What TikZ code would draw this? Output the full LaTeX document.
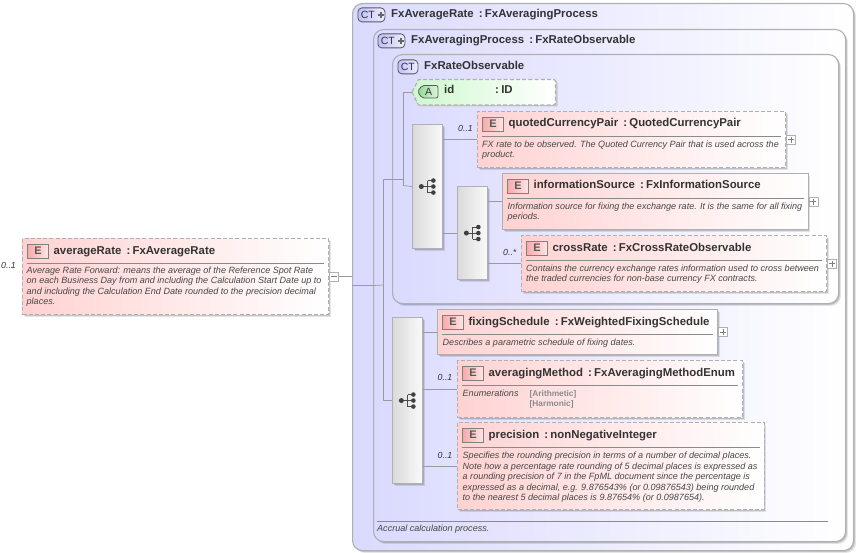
\documentclass[tikz,border=0pt]{standalone}
\usepackage{fontspec}
\setmainfont{Liberation Sans}
\usetikzlibrary{shadows,calc}
\definecolor{linegray}{HTML}{9A9A9A}
\definecolor{boxgray}{HTML}{B0B0B0}
\definecolor{textdark}{HTML}{333333}
\definecolor{ruledark}{HTML}{8A8A8A}
\definecolor{elempink}{HTML}{FFD2D2}
\definecolor{ctblue}{HTML}{DADAFF}
\definecolor{compleft}{HTML}{DADADA}
\definecolor{compright}{HTML}{FAFAFA}
\definecolor{eiconl}{HTML}{F8AAAA}
\definecolor{eiconr}{HTML}{FFE6E6}
\definecolor{cticonl}{HTML}{C0C0FA}
\definecolor{cticonr}{HTML}{EEEEFF}
\definecolor{attrgreen}{HTML}{CFF8CF}
\definecolor{aiconl}{HTML}{8FD98F}
\definecolor{aiconr}{HTML}{DDF5DD}
\tikzset{
  softshadow/.style={general shadow={fill=black,opacity=.10,shadow xshift=2.4pt,shadow yshift=-2.4pt},
                     general shadow={fill=black,opacity=.14,shadow xshift=1.4pt,shadow yshift=-1.4pt}},
  ctbox/.style={draw=boxgray,line width=1.1pt,rounded corners=10pt,left color=ctblue,right color=white,softshadow,anchor=north west,inner sep=0pt},
  elembase/.style={line width=1.1pt,left color=elempink,right color=white,softshadow,anchor=north west,inner sep=0pt},
  solidelem/.style={elembase,draw=boxgray},
  dashelem/.style={elembase,draw=boxgray,dash pattern=on 4pt off 2.2pt},
  compbox/.style={draw=boxgray,line width=1.1pt,left color=compleft,right color=compright,softshadow,anchor=north west,inner sep=0pt},
  toggle/.style={draw=boxgray,line width=.6pt,fill=white,minimum size=9pt,inner sep=0pt,anchor=west},
  conn/.style={draw=linegray,line width=.7pt},
  title/.style={font=\fontsize{11.4}{13}\selectfont\bfseries,text=textdark,anchor=base west,inner sep=0pt},
  desc/.style={font=\fontsize{9.05}{10.35}\selectfont\itshape,text=textdark!90,align=left,anchor=north west,inner sep=0pt},
  occurs/.style={font=\fontsize{8.8}{10}\selectfont\itshape,text=textdark,anchor=base west,inner sep=0pt},
  eicon/.style={draw=black!50,line width=.9pt,left color=eiconl,right color=eiconr,minimum width=21pt,minimum height=14pt,inner sep=0pt,anchor=north west,font=\fontsize{11}{12}\selectfont\bfseries,text=black!65},
  cticon/.style={draw=black!65,line width=.8pt,rounded corners=4pt,left color=cticonl,right color=cticonr,minimum height=14pt,inner sep=0pt,anchor=north west,font=\fontsize{10.5}{12}\selectfont,text=textdark},
}
% name, style, x, y, w, h, title
\newcommand\elembox[7]{%
  \node[#2,minimum width=#5pt,minimum height=#6pt] (#1) at (#3,#4) {};
  \node[eicon] (#1-e) at ($(#1.north west)+(5.2,5.6)$) {E};
  \node[title] (#1-t) at ($(#1.north west)+(31.4,16)$) {#7};
  \draw[ruledark,line width=.7pt] ($(#1.north west)+(5,25.2)$) -- ($(#1.north east)+(-5,25.2)$);
}
\newcommand\togglesign[2]{%
  \node[toggle] (#1-toggle) at (#1.east) {};
  \draw[black!50,line width=.6pt] ($(#1-toggle.center)+(-3,0)$) -- ($(#1-toggle.center)+(3,0)$);
  \ifx#2p\draw[black!50,line width=.6pt] ($(#1-toggle.center)+(0,-3)$) -- ($(#1-toggle.center)+(0,3)$);\fi
}
% compositor icon on the centre of a node
\newcommand\seqicon[1]{%
  \draw[black!70,line width=.9pt] ($(#1.center)+(-6,0)$) -- ($(#1.center)+(0,0)$)
     ($(#1.center)+(0,-6)$) -- ($(#1.center)+(0,6)$)
     ($(#1.center)+(0,-6)$) -- ($(#1.center)+(6,-6)$)
     ($(#1.center)+(0,0)$) -- ($(#1.center)+(6,0)$)
     ($(#1.center)+(0,6)$) -- ($(#1.center)+(6,6)$);
  \fill[black!75] ($(#1.center)+(-6.2,0)$) circle (2.5pt)
     ($(#1.center)+(5.8,-6)$) circle (2.3pt)
     ($(#1.center)+(5.8,0)$) circle (2.3pt)
     ($(#1.center)+(5.8,6)$) circle (2.3pt);
}
\newcommand\ctplus[1]{%
  \draw[black!60,line width=1.9pt] ($(#1.east)+(-7.4,0)$) -- ($(#1.east)+(-1.6,0)$)
     ($(#1.east)+(-4.5,-2.9)$) -- ($(#1.east)+(-4.5,2.9)$);
}
\begin{document}
\begin{tikzpicture}[x=1pt,y=-1pt]
\useasboundingbox[fill=white] (0,0) rectangle (858,553);
% containers
\node[ctbox,minimum width=501pt,minimum height=547pt] (ct1) at (352,3) {};
\node[ctbox,minimum width=472pt,minimum height=512pt] (ct2) at (373,29) {};
\node[ctbox,minimum width=446pt,minimum height=249pt] (ct3) at (392,54) {};
\node[cticon,minimum width=27pt,text width=25pt,align=left] (ct1-i) at (357.5,7.5) {\hspace{2pt}CT};
\ctplus{ct1-i}
\node[title] (ct1-t) at (391,18) {FxAverageRate\hspace{.45em}:\hspace{.2em}FxAveragingProcess};
\node[cticon,minimum width=27pt,text width=25pt,align=left] (ct2-i) at (377.5,33.5) {\hspace{2pt}CT};
\ctplus{ct2-i}
\node[title] (ct2-t) at (411,44) {FxAveragingProcess\hspace{.45em}:\hspace{.2em}FxRateObservable};
\node[cticon,minimum width=20pt] (ct3-i) at (397.5,59.5) {CT};
\node[title] (ct3-t) at (424,70) {FxRateObservable};
% compositors
\node[compbox,minimum width=30pt,minimum height=124pt] (comp1) at (412,124) {};
\node[compbox,minimum width=30pt,minimum height=93pt] (comp2) at (457,186) {};
\node[compbox,minimum width=30pt,minimum height=166pt] (comp3) at (392,317) {};
\seqicon{comp1}\seqicon{comp2}\seqicon{comp3}
% attribute
\coordinate (attr-tip) at (412,92);
\fill[black!22] (420,81.5) -- (556.5,81.5) -- (557.5,82.5) -- (557.5,106.5) -- (420,106.5) -- (414,99) -- cycle;
\draw[draw=boxgray,line width=1.1pt,dash pattern=on 4pt off 2.2pt,left color=attrgreen,right color=white]
  (attr-tip) -- (418.5,79.5) -- (554,79.5) -- (555.5,81) -- (555.5,103.5) -- (554,105) -- (418.5,105) -- cycle;
\draw[black!65,line width=.8pt,left color=aiconl,right color=aiconr,rounded corners=2pt] (422,85.5) -- (438,85.5) -- (438,98) -- (422,98) -- (417.5,91.7) -- cycle;
\node[font=\fontsize{10.5}{12}\selectfont,text=textdark,inner sep=0pt] (attr-a) at (428.5,92) {A};
\node[title] (attr-n) at (444,94) {id};
\node[title] (attr-ty) at (495,94) {:\hspace{.2em}ID};
% elements
\elembox{avg}{dashelem}{22}{238}{306}{76}{averageRate\hspace{.45em}:\hspace{.2em}FxAverageRate}
\node[desc] (avg-d) at (26.5,266.6) {Average Rate Forward: means the average of the Reference Spot Rate\\on each Business Day from and including the Calculation Start Date up to\\and including the Calculation End Date rounded to the precision decimal\\places.};
\togglesign{avg}{m}
\elembox{qcp}{dashelem}{477}{111}{308}{56}{quotedCurrencyPair\hspace{.45em}:\hspace{.2em}QuotedCurrencyPair}
\node[desc] (qcp-d) at (482,140.4) {FX rate to be observed. The Quoted Currency Pair that is used across the\\product.};
\togglesign{qcp}{p}
\elembox{info}{solidelem}{502}{173}{305.5}{56}{informationSource\hspace{.45em}:\hspace{.2em}FxInformationSource}
\node[desc] (info-d) at (507.5,202.4) {Information source for fixing the exchange rate. It is the same for all fixing\\periods.};
\togglesign{info}{p}
\elembox{cross}{dashelem}{521}{235}{305}{56}{crossRate\hspace{.45em}:\hspace{.2em}FxCrossRateObservable}
\node[desc] (cross-d) at (526,264.4) {Contains the currency exchange rates information used to cross between\\the traded currencies for non-base currency FX contracts.};
\togglesign{cross}{p}
\elembox{fix}{solidelem}{437}{309}{280}{45}{fixingSchedule\hspace{.45em}:\hspace{.2em}FxWeightedFixingSchedule}
\node[desc] (fix-d) at (442.5,338.4) {Describes a parametric schedule of fixing dates.};
\togglesign{fix}{p}
\elembox{meth}{dashelem}{457}{360}{285}{57}{averagingMethod\hspace{.45em}:\hspace{.2em}FxAveragingMethodEnum}
\node[desc] (meth-d) at (462.5,389.5) {Enumerations};
\node[font=\fontsize{8.3}{9.8}\selectfont\bfseries,text=black!45,align=left,anchor=north west,inner sep=0pt] (meth-v) at (529.5,390) {{[Arithmetic]}\\{[Harmonic]}};
\elembox{prec}{dashelem}{457}{422}{306.5}{87}{precision\hspace{.45em}:\hspace{.2em}nonNegativeInteger}
\node[desc] (prec-d) at (462.5,452.2) {Specifies the rounding precision in terms of a number of decimal places.\\Note how a percentage rate rounding of 5 decimal places is expressed as\\a rounding precision of 7 in the FpML document since the percentage is\\expressed as a decimal, e.g. 9.876543\% (or 0.09876543) being rounded\\to the nearest 5 decimal places is 9.87654\% (or 0.0987654).};
% occurrence labels
\node[occurs] (o0) at (1,268) {0..1};
\node[occurs] (o1) at (458,131.5) {0..1};
\node[occurs] (o2) at (503,255.5) {0..*};
\node[occurs] (o3) at (437.5,380.5) {0..1};
\node[occurs] (o4) at (437.5,458.5) {0..1};
% footer
\coordinate (foot-a) at (377,521);
\coordinate (foot-b) at (828,521);
\draw[ruledark,line width=.7pt] (foot-a) -- (foot-b);
\node[desc] (foot-d) at (377,524.4) {Accrual calculation process.};
% connectors
\coordinate (spineA) at (383,285);
\coordinate (spineB) at (403,185.5);
\draw[conn] (avg-toggle.east) -- (avg-toggle.east -| ct1.west);
\draw[conn] (ct2.west -| ct1.west) -- (ct2.west) -- (spineA);
\draw[conn] (ct3.west) -| (spineA);
\draw[conn] (comp3.west) -| (spineA);
\draw[conn] (ct3.west) -| (spineB);
\draw[conn] (comp1.west) -- (spineB);
\draw[conn] (attr-tip) -| (spineB);
\draw[conn] (comp2.west -| comp1.east) -- (comp2.west);
\draw[conn] (qcp.west -| comp1.east) -- (qcp.west);
\draw[conn] (info.west -| comp2.east) -- (info.west);
\draw[conn] (cross.west -| comp2.east) -- (cross.west);
\draw[conn] (fix.west -| comp3.east) -- (fix.west);
\draw[conn] (meth.west -| comp3.east) -- (meth.west);
\draw[conn] (prec.west -| comp3.east) -- (prec.west);
\end{tikzpicture}
\end{document}
